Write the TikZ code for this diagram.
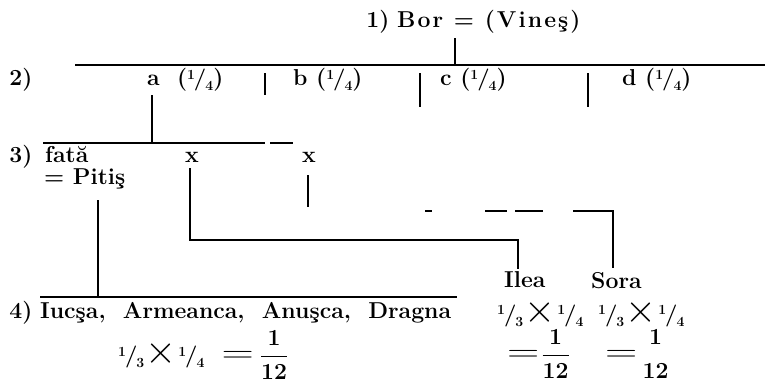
\documentclass[tikz,border=0pt]{standalone}
\usepackage{amsmath}
\usepackage{graphicx}
\usepackage{fontspec}
\setmainfont{Latin Modern Roman}
\newcommand\myfr[2]{\raisebox{0.6ex}[11pt][0pt]{\fontsize{14}{14}\selectfont #1}\kern-1pt\raisebox{0pt}[13pt][3pt]{\fontsize{22}{22}\selectfont /}\kern-1pt\raisebox{-0.5ex}[8pt][3pt]{\fontsize{14}{14}\selectfont #2}}
\newcommand\mytimes{\kern1.5pt\smash{\raisebox{-1pt}{\scalebox{1.6}{$\times$}}}\kern1.5pt}
\newcommand\myeq{\scalebox{1.8}[1.25]{$=$}}
\newcommand\myres[1]{\myeq\kern#1$\dfrac{\mathbf{1}}{\mathbf{12}}$}
\newcommand\myresnb[1]{\myeq\kern#1$\genfrac{}{}{0pt}{0}{\mathbf{1}}{\mathbf{12}}$}
\tikzset{
  lbl/.style={inner sep=0pt, font=\fontsize{23}{25}\selectfont\bfseries},
  ln/.style={line width=1.1pt, black},
}
\begin{document}
\begin{tikzpicture}[x=1pt,y=-1pt]
\useasboundingbox (0,0) rectangle (769,383);
% level 1
\node[lbl] (l1) at (378,22) {1)};
\node[lbl, anchor=west] (bor) at (397,22) {\addfontfeature{LetterSpace=9}Bor = (Vineş)};
\coordinate (borS) at (455,38);
\coordinate (g2) at (455,65);
\draw[ln] (borS) -- (g2);
\coordinate (L2a) at (75,65);
\coordinate (L2b) at (765,65);
\draw[ln] (L2a) -- (L2b);
% level 2
\node[lbl] (l2) at (21,80) {2)};
\node[lbl, anchor=west] (a) at (147,80) {a\ \ (\myfr{1}{4})};
\node[lbl, anchor=west] (b) at (293,80) {b (\myfr{1}{4})};
\node[lbl, anchor=west] (c) at (440,80) {c (\myfr{1}{4})};
\node[lbl, anchor=west] (d) at (622,80) {d (\myfr{1}{4})};
\coordinate (s1t) at (265,73); \coordinate (s1b) at (265,95);
\coordinate (s2t) at (420,73); \coordinate (s2b) at (420,107);
\coordinate (s3t) at (588,73); \coordinate (s3b) at (588,107);
\draw[ln] (s1t) -- (s1b);
\draw[ln] (s2t) -- (s2b);
\draw[ln] (s3t) -- (s3b);
\coordinate (aS) at (152,95);
\coordinate (g3) at (152,143);
\draw[ln] (aS) -- (g3);
\coordinate (L3a) at (43,143); \coordinate (L3b) at (265,143);
\coordinate (L3c) at (270,143); \coordinate (L3d) at (293,143);
\draw[ln] (L3a) -- (L3b);
\draw[ln] (L3c) -- (L3d);
% level 3
\node[lbl] (l3) at (21,157) {3)};
\node[lbl, anchor=west] (fata) at (45,155) {fată};
\node[lbl, anchor=west] (pitis) at (44,179) {= Pitiş};
\node[lbl] (x1) at (192,157) {x};
\node[lbl] (x2) at (309,157) {x};
\coordinate (pS) at (98,200);
\coordinate (pE) at (98,297);
\draw[ln] (pS) -- (pE);
\coordinate (x1S) at (190,168);
\coordinate (x1c) at (190,240);
\coordinate (ileaN) at (518,240);
\coordinate (ileaT) at (518,269);
\draw[ln] (x1S) -- (x1c) -- (ileaN) -- (ileaT);
\coordinate (x2S) at (308,175);
\coordinate (x2E) at (308,207);
\draw[ln] (x2S) -- (x2E);
\coordinate (dA) at (425,211);
\coordinate (dB) at (613,211);
\coordinate (soraT) at (613,268);
\draw[ln, dash pattern=on 7pt off 53pt on 22pt off 8pt on 28pt off 30pt on 300pt] (dA) -- (dB) -- (soraT);
% level 4
\coordinate (L4a) at (40,297); \coordinate (L4b) at (457,297);
\draw[ln] (L4a) -- (L4b);
\node[lbl] (l4) at (21,313) {4)};
\node[lbl, anchor=west] (names) at (40,313) {Iucşa,\ \ Armeanca,\ \ Anuşca,\ \ Dragna};
\node[lbl, anchor=west] (f1) at (118,355) {\myfr{1}{3}\mytimes\myfr{1}{4}\ \ \myres{6pt}};
\node[lbl, anchor=west] (ilea) at (504,280) {Ilea};
\node[lbl, anchor=west] (f2) at (497,316) {\myfr{1}{3}\mytimes\myfr{1}{4}};
\node[lbl, anchor=west] (r2) at (507,354) {\myres{2pt}};
\node[lbl, anchor=west] (sora) at (591,281) {Sora};
\node[lbl, anchor=west] (f3) at (598,316) {\myfr{1}{3}\mytimes\myfr{1}{4}};
\node[lbl, anchor=west] (r3) at (605,354) {\myresnb{4pt}};
\end{tikzpicture}
\end{document}
